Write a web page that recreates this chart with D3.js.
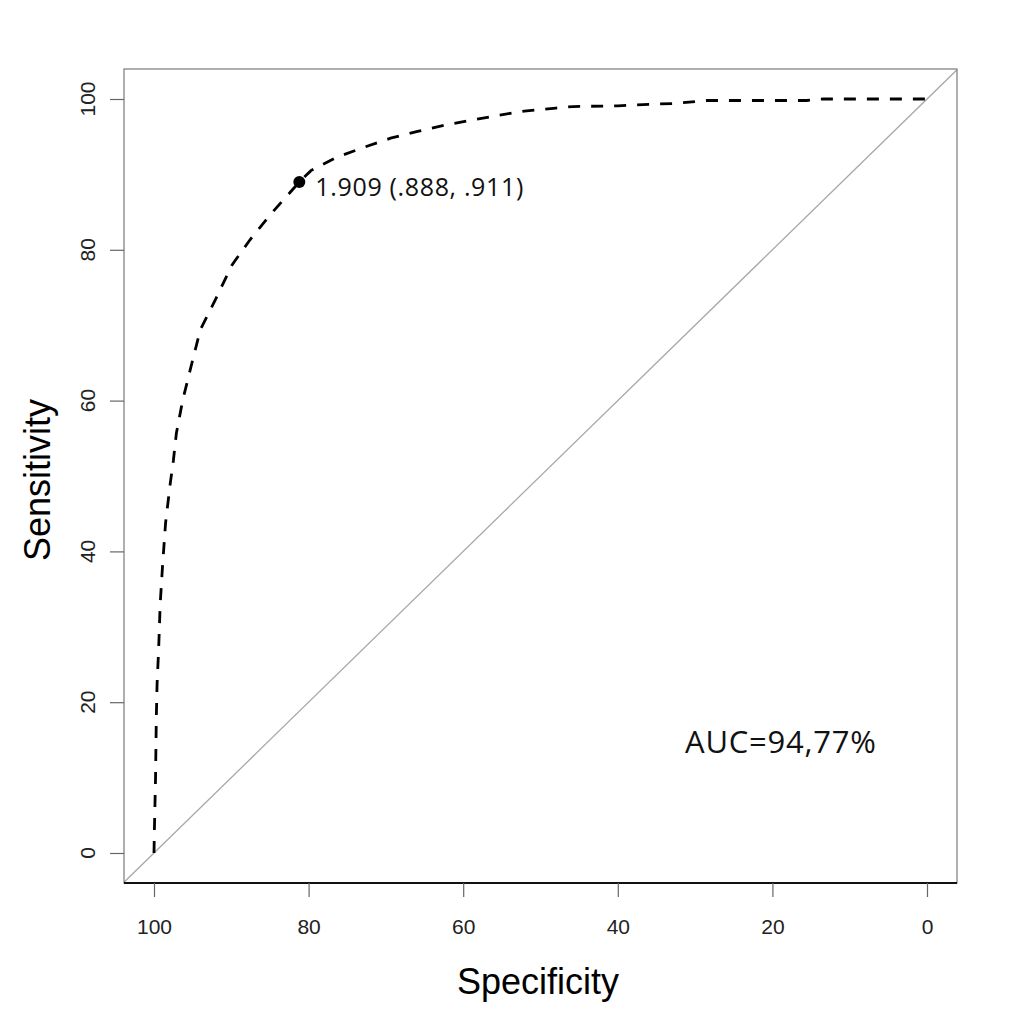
<!DOCTYPE html>
<html>
<head>
<meta charset="utf-8">
<script src="https://cdn.jsdelivr.net/npm/d3@7.9.0/dist/d3.min.js"></script>
<style>
  html, body { margin: 0; padding: 0; background: #fff; }
  svg { display: block; }
  .tick-label { font-family: "Liberation Sans", Arial, sans-serif; font-size: 21px; fill: #222; }
  .axis-title { font-family: "Liberation Sans", Arial, sans-serif; font-size: 36px; fill: #000; }
  .note { font-family: "Open Sans", "Noto Sans", sans-serif; fill: #111; }
</style>
</head>
<body>
<svg id="chart" width="1019" height="1024"></svg>
<script>
// ROC curve (percent)
const specificity = [100, 99.95, 99.8, 99.7, 99.6, 99.4, 99.2, 98.9, 98.5, 97.9, 97.5, 97.1, 96.3, 94.9, 94.0, 92.1, 89.9, 87.6, 85.0, 81.2, 79.7, 76.3, 72.8, 69.4, 65.9, 62.5, 59.0, 55.6, 52.1, 48.0, 45.8, 40.0, 36.0, 32.8, 28.5, 20.0, 15.6, 13.4, 10.0, 0];
const sensitivity = [0, 3, 10, 18, 22.5, 27, 33, 38, 43.8, 49, 52, 55.7, 60, 65.8, 69.4, 73.3, 78, 81.3, 84.6, 89.0, 90.5, 92.3, 93.6, 94.8, 95.7, 96.5, 97.2, 97.8, 98.4, 98.8, 99.0, 99.1, 99.3, 99.4, 99.8, 99.8, 99.8, 100, 100, 100];

// best threshold point
const bestSpec = 81.2;
const bestSens = 89.0;
const bestLabel = "1.909 (.888, .911)";
const aucLabel = "AUC=94,77%";

const xTicks = [100, 80, 60, 40, 20, 0];
const yTicks = [0, 20, 40, 60, 80, 100];

const svg = d3.select('#chart');
const box = { left: 124, right: 957, top: 69, bottom: 883 };

// reversed x axis like pROC
const x = d3.scaleLinear().domain([100, 0]).range([154, 927]);
const y = d3.scaleLinear().domain([0, 100]).range([853, 99]);

const plot = svg.append('g');

// clip to plot box
svg.append('clipPath').attr('id', 'clip')
    .append('rect')
    .attr('x', box.left).attr('y', box.top)
    .attr('width', box.right - box.left).attr('height', box.bottom - box.top);

// diagonal reference line, spans the whole box
const xLo = x.invert(box.left), xHi = x.invert(box.right);
plot.append('line')
    .attr('clip-path', 'url(#clip)')
    .attr('x1', x(xLo)).attr('y1', y(100 - xLo))
    .attr('x2', x(xHi)).attr('y2', y(100 - xHi))
    .attr('stroke', '#a8a8a8')
    .attr('stroke-width', 1.3);

// box
plot.append('rect')
    .attr('x', box.left).attr('y', box.top)
    .attr('width', box.right - box.left).attr('height', box.bottom - box.top)
    .attr('fill', 'none')
    .attr('stroke', '#7a7a7a')
    .attr('stroke-width', 1.2);
plot.append('line')
    .attr('x1', box.left).attr('x2', box.right)
    .attr('y1', box.bottom).attr('y2', box.bottom)
    .attr('stroke', '#111').attr('stroke-width', 2);

// x axis ticks
const xAxis = d3.axisBottom(x).tickValues(xTicks).tickSize(14).tickPadding(22);
const gx = svg.append('g')
    .attr('transform', `translate(0,${box.bottom})`)
    .call(xAxis);
gx.select('.domain').remove();
gx.selectAll('.tick line').attr('stroke', '#666').attr('stroke-width', 1.2);
gx.selectAll('.tick text').attr('class', 'tick-label').attr('fill', null);

// y axis ticks, labels rotated (R style)
const yAxis = d3.axisLeft(y).tickValues(yTicks).tickSize(14).tickFormat('');
const gy = svg.append('g')
    .attr('transform', `translate(${box.left},0)`)
    .call(yAxis);
gy.select('.domain').remove();
gy.selectAll('.tick line').attr('stroke', '#666').attr('stroke-width', 1.2);

svg.append('g').selectAll('text')
    .data(yTicks)
    .join('text')
    .attr('class', 'tick-label')
    .attr('transform', d => `translate(95,${y(d)}) rotate(-90)`)
    .attr('text-anchor', 'middle')
    .text(d => d);

// axis titles
svg.append('text')
    .attr('class', 'axis-title')
    .attr('transform', `translate(50,480) rotate(-90)`)
    .attr('text-anchor', 'middle')
    .text('Sensitivity');

svg.append('text')
    .attr('class', 'axis-title')
    .attr('x', 538).attr('y', 994)
    .attr('text-anchor', 'middle')
    .text('Specificity');

// ROC curve
const rocData = specificity.map((s, i) => ({ spec: s, sens: sensitivity[i] }));
const line = d3.line()
    .x(d => x(d.spec))
    .y(d => y(d.sens));

plot.append('path')
    .datum(rocData)
    .attr('d', line)
    .attr('fill', 'none')
    .attr('stroke', '#000')
    .attr('stroke-width', 2.8)
    .attr('stroke-dasharray', '12,11');

// threshold point + label
plot.append('circle')
    .attr('cx', x(bestSpec)).attr('cy', y(bestSens))
    .attr('r', 6)
    .attr('fill', '#000');

svg.append('text')
    .attr('class', 'note')
    .attr('x', x(bestSpec) + 16).attr('y', y(bestSens) + 14)
    .attr('font-size', 25)
    .attr('textLength', 208)
    .text(bestLabel);

svg.append('text')
    .attr('class', 'note')
    .attr('x', 685).attr('y', 753)
    .attr('font-size', 31)
    .attr('textLength', 191)
    .text(aucLabel);
</script>
</body>
</html>
